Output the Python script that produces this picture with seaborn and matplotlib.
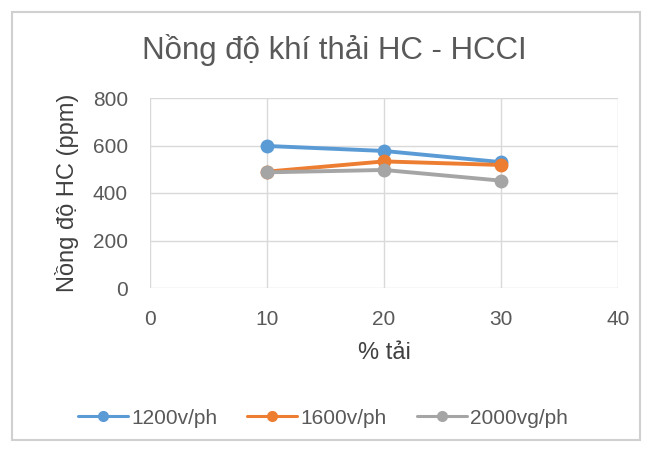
import matplotlib
matplotlib.use("Agg")
import matplotlib.pyplot as plt
import seaborn as sns
import pandas as pd
from matplotlib.patches import Rectangle

load = [10, 20, 30]
series_names = ["1200v/ph", "1600v/ph", "2000vg/ph"]
hc_1200 = [598, 577, 530]
hc_1600 = [490, 533, 518]
hc_2000 = [487, 497, 452]
x_ticks = [0, 10, 20, 30, 40]
y_ticks = [0, 200, 400, 600, 800]

rows = []
for name, vals in zip(series_names, [hc_1200, hc_1600, hc_2000]):
    for x, v in zip(load, vals):
        rows.append({"load": x, "hc": v, "series": name})
df = pd.DataFrame(rows)

sns.set_theme(style="white")
plt.rcParams['font.family'] = ['Liberation Sans', 'DejaVu Sans']

fig = plt.figure(figsize=(6.54, 4.5), dpi=100)
ax = fig.add_axes([150/654, 1-288/450, (618-150)/654, (288-98)/450])

palette = {"1200v/ph": "#5B9BD5", "1600v/ph": "#ED7D31", "2000vg/ph": "#A5A5A5"}
sns.lineplot(data=df, x="load", y="hc", hue="series", palette=palette,
             marker="o", markersize=10, markeredgewidth=0, linewidth=2.8,
             ax=ax, legend=True)

ax.set_xlim(0, 40)
ax.set_ylim(0, 800)
ax.set_xticks(x_ticks)
ax.set_yticks(y_ticks)
ax.grid(True, color="#d9d9d9", linewidth=1)
ax.set_axisbelow(True)
for s in ax.spines.values():
    s.set_visible(False)
ax.tick_params(axis='x', length=0, labelsize=15, labelcolor="#595959", pad=15.5)
ax.tick_params(axis='y', length=0, labelsize=15, labelcolor="#595959", pad=16)
ax.set_xlabel("% tải", fontsize=17, color="#404040", labelpad=10)
ax.set_ylabel("Nồng độ HC (ppm)", fontsize=17, color="#404040", labelpad=10)
fig.text(334/654, 1-50/450, "Nồng độ khí thải HC - HCCI", fontsize=22.5,
         color="#595959", ha="center", va="center")

handles, labels = ax.get_legend_handles_labels()
leg = ax.legend(handles, labels, loc="center", bbox_to_anchor=(323/654, 1-418/450),
                bbox_transform=fig.transFigure, ncol=3,
                frameon=False, fontsize=15, handlelength=2.4, columnspacing=1.45,
                handletextpad=0.15, markerscale=0.8)
for t in leg.get_texts():
    t.set_color("#595959")
for h in leg.legend_handles:
    h.set_linewidth(2.2)

fig.patches.append(Rectangle((12/654, 10/450), (640-12)/654, (438-10)/450,
                             transform=fig.transFigure, fill=False,
                             edgecolor="#d0d0d0", linewidth=1.5))

fig.savefig("out.png", dpi=100)
